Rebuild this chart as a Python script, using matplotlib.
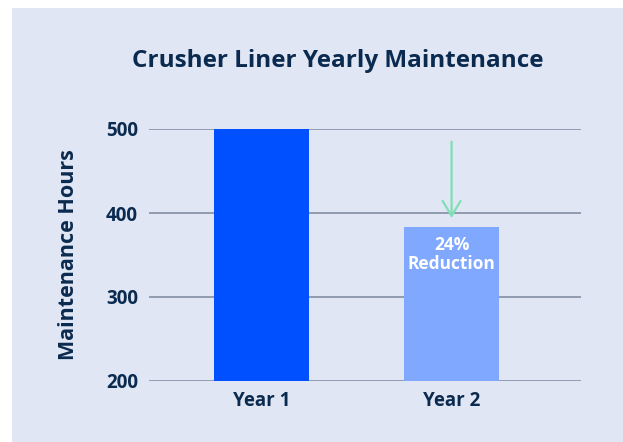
import matplotlib
matplotlib.use('Agg')
import matplotlib.pyplot as plt
from matplotlib.patches import Rectangle

categories = ['Year 1', 'Year 2']
hours = [500, 383]
bar_colors = ['#0050ff', '#80a8ff']
yticks = [200, 300, 400, 500]
note = '24%\nReduction'

navy = '#0b2a4f'
bg = '#e0e6f3'
plt.rcParams['font.family'] = ['Open Sans', 'DejaVu Sans']

fig = plt.figure(figsize=(6.23, 4.42), dpi=100)
fig.patch.set_facecolor('white')
fig.patches.append(Rectangle((12 / 623, 0), 1, 1 - 8 / 442, transform=fig.transFigure,
                             facecolor=bg, edgecolor='none', zorder=-10))

ax = fig.add_axes([149 / 623, (442 - 381) / 442, (581 - 149) / 623, (381 - 129) / 442])
ax.set_facecolor('none')
x = range(len(categories))
ax.bar(x, hours, width=0.5, color=bar_colors, zorder=1)
ax.set_ylim(200, 500)
ax.set_xlim(-0.59, 1.68)
ax.set_yticks(yticks)
ax.grid(axis='y', color='#8a96aa', linewidth=1.3, zorder=0)
ax.set_axisbelow(True)
for s in ax.spines.values():
    s.set_visible(False)
ax.tick_params(length=0, labelsize=13.5, labelcolor=navy, pad=7)
ax.tick_params(axis='y', pad=8)
ax.set_xticks(list(x))
ax.set_xticklabels(categories, fontweight='bold')
for lab in ax.get_yticklabels():
    lab.set_fontweight('bold')
ax.set_ylabel('Maintenance Hours', fontsize=15.5, fontweight='bold', color=navy, labelpad=19)

ax.annotate('', xy=(1, 394), xytext=(1, 485),
            arrowprops=dict(arrowstyle='->,head_length=0.6,head_width=0.36',
                            color='#7fe0b5', lw=1.6, mutation_scale=18, shrinkA=0, shrinkB=0))
ax.text(1, 351, note, ha='center', va='center', color='white', fontsize=12.5,
        fontweight='bold', linespacing=1.05)

fig.text(338 / 623, 1 - 61 / 442, 'Crusher Liner Yearly Maintenance', ha='center', va='center',
         fontsize=17.5, fontweight='bold', color=navy)

fig.savefig('out.png', dpi=100)
